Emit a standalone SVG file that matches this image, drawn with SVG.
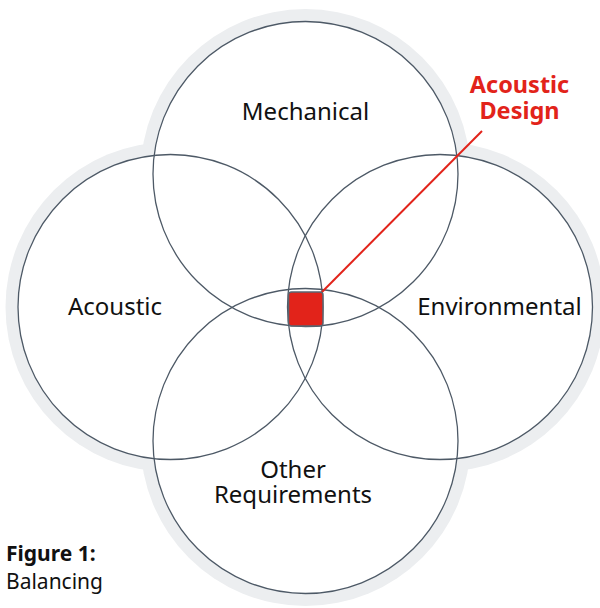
<svg xmlns="http://www.w3.org/2000/svg" width="600" height="608" viewBox="0 0 600 608">
  <style>
    .halo { fill: #eceef0; }
    .ring { fill: none; stroke: #4d5966; stroke-width: 1.3; }
    .lbl { font-family: "Noto Sans", "Open Sans", sans-serif; font-size: 24px; fill: #111; text-anchor: middle; }
    .hot { font-family: "Noto Sans", "Open Sans", sans-serif; font-size: 23.5px; font-weight: bold; fill: #e2231a; text-anchor: middle; }
    .cap { font-family: "Noto Sans", "Open Sans", sans-serif; font-size: 21px; fill: #111; }
  </style>
  <rect width="600" height="608" fill="#ffffff"/>

  <!-- light grey outline around the union of the four circles -->
  <g id="halo">
    <circle class="halo" cx="305.5" cy="174" r="165"/>
    <circle class="halo" cx="170.5" cy="307" r="165"/>
    <circle class="halo" cx="440" cy="307" r="165"/>
    <circle class="halo" cx="305.5" cy="441" r="165"/>
    <circle fill="#fff" cx="305.5" cy="174" r="152.5"/>
    <circle fill="#fff" cx="170.5" cy="307" r="152.5"/>
    <circle fill="#fff" cx="440" cy="307" r="152.5"/>
    <circle fill="#fff" cx="305.5" cy="441" r="152.5"/>
  </g>

  <g id="mechanical">
    <circle class="ring" cx="305.5" cy="174" r="152.5"/>
    <text class="lbl" x="305.5" y="120">Mechanical</text>
  </g>
  <g id="acoustic">
    <circle class="ring" cx="170.5" cy="307" r="152.5"/>
    <text class="lbl" x="115" y="315">Acoustic</text>
  </g>
  <g id="environmental">
    <circle class="ring" cx="440" cy="307" r="152.5"/>
    <text class="lbl" x="499.5" y="315">Environmental</text>
  </g>
  <g id="other">
    <circle class="ring" cx="305.5" cy="441" r="152.5"/>
    <text class="lbl" x="293" y="478">Other</text>
    <text class="lbl" x="293" y="503">Requirements</text>
  </g>

  <g id="connectors">
    <line x1="320" y1="294" x2="482" y2="131" stroke="#e2231a" stroke-width="2"/>
  </g>

  <g id="acoustic-design">
    <rect x="288.5" y="292" width="34.5" height="34" rx="3" fill="#e2231a" stroke="#5a6570" stroke-width="1.5"/>
    <text class="hot" x="519.5" y="93">Acoustic</text>
    <text class="hot" x="519.5" y="119">Design</text>
  </g>

  <g id="caption">
    <text class="cap" x="6" y="561" font-weight="bold">Figure 1:</text>
    <text class="cap" x="6" y="589">Balancing</text>
  </g>
</svg>
